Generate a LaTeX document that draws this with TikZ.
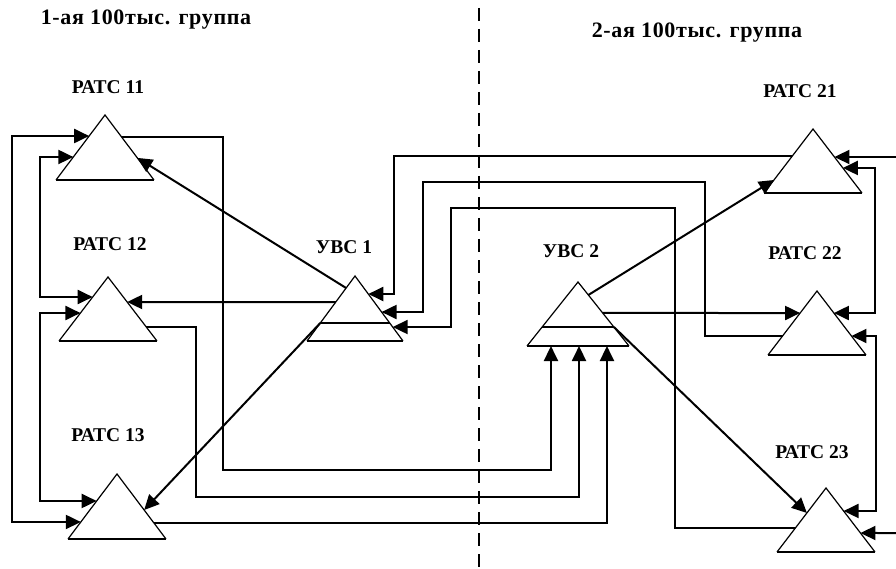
\documentclass[tikz,border=0pt]{standalone}
\usepackage{fontspec}
\setmainfont{Liberation Serif}
\newfontfamily\titlefont[LetterSpace=3]{Liberation Serif}
\usetikzlibrary{arrows.meta,calc}
\newcommand\mytri[5]{%
  \coordinate (#1a) at (#2,#3);
  \coordinate (#1l) at (#2-#4,#3+#5);
  \coordinate (#1r) at (#2+#4,#3+#5);
  \draw[tside] (#1l) -- (#1a) -- (#1r);
  \draw[tbase] (#1l) -- (#1r);
}
\newcommand\sidept[4]{\coordinate (#1) at ($(#2)!#4!(#3)$);}
\begin{document}
\begin{tikzpicture}[x=1pt,y=-1pt,
  conn/.style={line width=2pt},
  arr/.style={conn,-{Triangle[length=15pt,width=14pt]}},
  darr/.style={conn,{Triangle[length=15pt,width=14pt]}-{Triangle[length=15pt,width=14pt]}},
  lbl/.style={font=\fontsize{19.5}{22}\selectfont\bfseries, inner sep=0pt},
  ttl/.style={font=\titlefont\fontsize{22}{26}\selectfont\bfseries, inner sep=0pt},
  tside/.style={line width=1.2pt},
  tbase/.style={line width=2pt}]
\useasboundingbox[fill=white] (0,0) rectangle (896,569);

% triangles
\mytri{p11}{105}{115}{49}{65}
\mytri{p12}{108}{277}{49}{64}
\mytri{p13}{117}{474}{49}{65}
\mytri{u1}{355}{276}{48}{65}
\mytri{u2}{578}{282}{51}{64}
\mytri{p21}{813}{129}{49}{64}
\mytri{p22}{817}{291}{49}{64}
\mytri{p23}{826}{488}{49}{64}
\draw[line width=1.5pt] ($(u1a)!0.723!(u1l)$) -- ($(u1a)!0.723!(u1r)$);
\draw[line width=1.5pt] ($(u2a)!0.703!(u2l)$) -- ($(u2a)!0.703!(u2r)$);

% labels
\node[ttl, anchor=base] (t1) at (146,25) {1-ая 100тыс. группа};
\node[ttl, anchor=base] (t2) at (697,38) {2-ая 100тыс. группа};
\node[lbl] (n11) at (108,87) {РАТС 11};
\node[lbl] (n12) at (110,244) {РАТС 12};
\node[lbl] (n13) at (108,435) {РАТС 13};
\node[lbl] (nu1) at (344,247) {УВС 1};
\node[lbl] (nu2) at (571,251) {УВС 2};
\node[lbl] (n21) at (800,91) {РАТС 21};
\node[lbl] (n22) at (805,253) {РАТС 22};
\node[lbl] (n23) at (812,452) {РАТС 23};

% dashed divider
\coordinate (dtop) at (479,8);
\coordinate (dbot) at (479,569);
\draw[line width=2pt, dash pattern=on 13pt off 8pt] (dtop) -- (dbot);

% side points
\sidept{p11L1}{p11a}{p11l}{0.323}
\sidept{p11L2}{p11a}{p11l}{0.646}
\sidept{p11R1}{p11a}{p11r}{0.338}
\sidept{p11R2}{p11a}{p11r}{0.66}
\sidept{p12L1}{p12a}{p12l}{0.3125}
\sidept{p12L2}{p12a}{p12l}{0.5625}
\sidept{p12R1}{p12a}{p12r}{0.78}
\sidept{p12R2}{p12a}{p12r}{0.390625}
\sidept{p13L1}{p13a}{p13l}{0.415}
\sidept{p13L2}{p13a}{p13l}{0.738}
\sidept{p13R1}{p13a}{p13r}{0.754}
\sidept{p13R2}{p13a}{p13r}{0.554}
\sidept{u1L1}{u1a}{u1l}{0.185}
\sidept{u1L2}{u1a}{u1l}{0.4}
\sidept{u1L3}{u1a}{u1l}{0.723}
\sidept{u1R1}{u1a}{u1r}{0.277}
\sidept{u1R2}{u1a}{u1r}{0.554}
\sidept{u1R3}{u1a}{u1r}{0.785}
\sidept{u2R1}{u2a}{u2r}{0.203}
\sidept{u2R2}{u2a}{u2r}{0.484}
\sidept{u2R3}{u2a}{u2r}{0.703}
\sidept{u2B1}{u2l}{u2r}{0.235}
\sidept{u2B2}{u2l}{u2r}{0.51}
\sidept{u2B3}{u2l}{u2r}{0.784}
\sidept{p21L1}{p21a}{p21l}{0.422}
\sidept{p21L2}{p21a}{p21l}{0.797}
\sidept{p21R1}{p21a}{p21r}{0.4375}
\sidept{p21R2}{p21a}{p21r}{0.609}
\sidept{p22L1}{p22a}{p22l}{0.703}
\sidept{p22L2}{p22a}{p22l}{0.344}
\sidept{p22R1}{p22a}{p22r}{0.344}
\sidept{p22R2}{p22a}{p22r}{0.703}
\sidept{p23L1}{p23a}{p23l}{0.625}
\sidept{p23L2}{p23a}{p23l}{0.39}
\sidept{p23R1}{p23a}{p23r}{0.359}
\sidept{p23R2}{p23a}{p23r}{0.703}

% guide coordinates
\coordinate (gx12) at (12,0);
\coordinate (gx40) at (40,0);
\coordinate (g4) at (223,470);
\coordinate (g5) at (196,497);
\coordinate (gx394) at (394,0);
\coordinate (g11a) at (705,182);
\coordinate (gx423) at (423,0);
\coordinate (g12a) at (675,208);
\coordinate (gx451) at (451,0);
\coordinate (gx875) at (875,0);
\coordinate (gx876) at (876,0);
\coordinate (e1) at (896,157);
\coordinate (e2) at (896,533);

% left group loops
\draw[darr] (p11L1) -- (p11L1 -| gx12) |- (p13L2);
\draw[darr] (p11L2) -- (p11L2 -| gx40) |- (p12L1);
\draw[darr] (p12L2) -- (p12L2 -| gx40) |- (p13L1);

% left group to UVS2
\draw[arr] (p11R1) -| (g4) -| (u2B1);
\draw[arr] (p12R1) -| (g5) -| (u2B2);
\draw[arr] (p13R1) -| (u2B3);

% UVS1 outgoing
\draw[arr] (u1L1) -- (p11R2);
\draw[arr] (u1L2) -- (p12R2);
\draw[arr] (u1L3) -- (p13R2);

% right group to UVS1
\draw[arr] (p21L1) -- (p21L1 -| gx394) |- (u1R1);
\draw[arr] (p22L1) -| (g11a) -- (g11a -| gx423) |- (u1R2);
\draw[arr] (p23L1) -| (g12a) -- (g12a -| gx451) |- (u1R3);

% UVS2 outgoing
\draw[arr] (u2R1) -- (p21L2);
\draw[arr] (u2R2) -- (p22L2);
\draw[arr] (u2R3) -- (p23L2);

% right side
\draw[arr] (e1) -- (p21R1);
\draw[darr] (p21R2) -- (p21R2 -| gx875) |- (p22R1);
\draw[darr] (p22R2) -- (p22R2 -| gx876) |- (p23R1);
\draw[arr] (e2) -- (p23R2);
\end{tikzpicture}
\end{document}
